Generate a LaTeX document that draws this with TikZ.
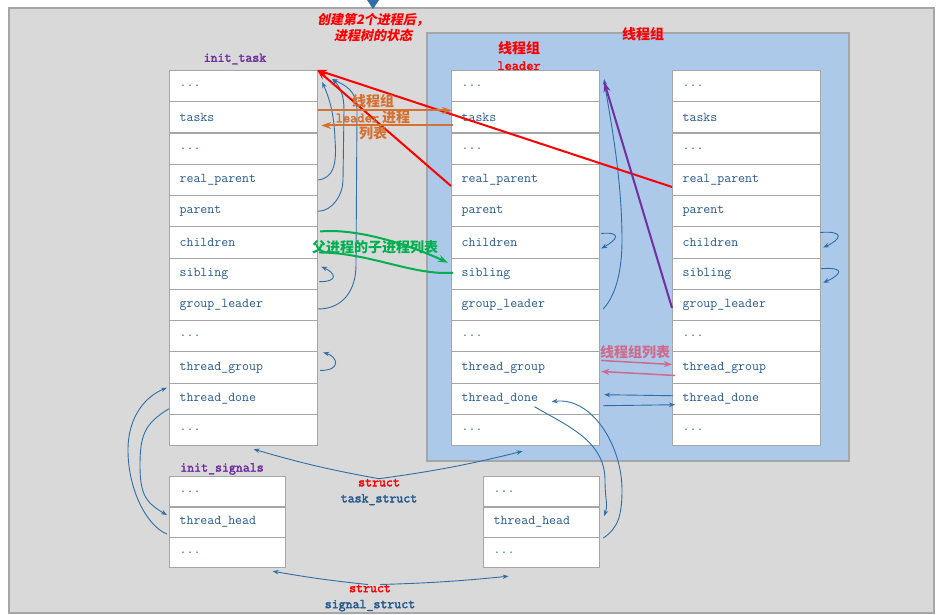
\documentclass[tikz,border=0pt]{standalone}
\usepackage{fontspec}
\usetikzlibrary{arrows.meta}
\newfontfamily\cjk{Noto Sans CJK SC}
\newfontfamily\cjkit[FakeSlant=0.2]{Noto Sans CJK SC}
\newfontfamily\tbold[FakeBold=2.5]{Latin Modern Mono}
\definecolor{bggray}{HTML}{D9D9D9}
\definecolor{boxgray}{HTML}{A6A6A6}
\definecolor{groupblue}{HTML}{ACC9E9}
\definecolor{fieldtext}{HTML}{265A8C}
\definecolor{ptrblue}{HTML}{2F6EA6}
\definecolor{labelpurple}{HTML}{7030A0}
\definecolor{listorange}{HTML}{D57130}
\definecolor{listgreen}{HTML}{00B050}
\definecolor{listpink}{HTML}{CF6A8C}
\newcommand\fdots{...}
\begin{document}
\begin{tikzpicture}[x=1pt,y=-1pt,
  field/.style={draw=boxgray,line width=1.2pt,fill=white,minimum height=31.25pt,
    text width=128pt,inner xsep=10pt,inner ysep=0pt,align=left,anchor=north west,
    font=\ttfamily\fontsize{13.5}{14}\selectfont,text=fieldtext},
  sfield/.style={field,minimum height=30.33pt,text width=96pt},
  tlabel/.style={font=\tbold\fontsize{13.5}{16}\selectfont,inner sep=0pt},
  clabel/.style={font=\cjk\bfseries\fontsize{14}{16}\selectfont,inner sep=0pt,align=center},
  ptr/.style={draw=ptrblue,line width=0.9pt,-{Stealth[length=6pt,width=4.5pt]}},
  fat/.style={line width=2pt,-{Stealth[length=10pt,width=7pt]}}]
\useasboundingbox (0,0) rectangle (940,615);
\draw[draw=boxgray,line width=2pt,fill=bggray] (9,8) rectangle (934,613);
\draw[draw=boxgray,line width=1.5pt,fill=groupblue] (427,33) rectangle (849,461);
\fill[ptrblue] (367,0) -- (379,0) -- (373,9) -- cycle;
% task_struct fields
\foreach \colname/\colx in {L/169,M/451,R/672}
  \foreach \fname [count=\i] in {\fdots,tasks,\fdots,real\_parent,parent,children,sibling,group\_leader,\fdots,thread\_group,thread\_done,\fdots}
    \node[field] (\colname\i) at (\colx,{70+31.25*(\i-1)}) {\fname};
% signal_struct fields
\foreach \colname/\colx in {Sa/169,Sb/483}
  \foreach \fname [count=\i] in {\fdots,thread\_head,\fdots}
    \node[sfield] (\colname\i) at (\colx,{476+30.33*(\i-1)}) {\fname};
% labels
\node[tlabel,text=labelpurple] (tasklabel) at (235,59) {init\_task};
\node[tlabel,text=labelpurple] (siglabel) at (222,469) {init\_signals};
\node[clabel,text=red] (leadlabel) at (519,56) {线程组\\{\tbold leader}};
\node[clabel,text=red] (grouplabel) at (643,34) {线程组};
\node[clabel,text=red,font=\cjkit\bfseries\fontsize{13}{16}\selectfont] (title) at (373,28) {创建第2个进程后，\\进程树的状态};
\node[tlabel,align=center] (tsname) at (379,492) {\textcolor{red}{struct}\\\textcolor{fieldtext}{task\_struct}};
\node[tlabel,align=center] (ssname) at (370,598) {\textcolor{red}{struct}\\\textcolor{fieldtext}{signal\_struct}};
% init_task points to itself
\draw[ptr] (L4.east) .. controls +(15,-2) and +(2,25) .. (335,140) .. controls +(-1,-30) and +(6,14) .. ([shift={(4,12)}]L1.north east);
\draw[ptr] (L5.east) .. controls +(14,0) and +(0,15) .. (343,180) -- (344,110) .. controls +(0,-15) and +(8,8) .. ([shift={(14,9)}]L1.north east);
\draw[ptr] ([shift={(0,4)}]L8.east) .. controls +(25,0) and +(0,25) .. (356,265) -- (357,110) .. controls +(0,-20) and +(12,6) .. ([shift={(14,9)}]L1.north east);
\draw[ptr] ([shift={(1,8)}]L7.east) .. controls +(20,0) and +(14,6) .. ([shift={(3,-7)}]L7.east);
\draw[ptr] ([shift={(2,3)}]L10.east) .. controls +(22,0) and +(14,4) .. ([shift={(5,-15)}]L10.east);
\draw[ptr] ([shift={(-2,12)}]Sa2.west) .. controls +(-20,-8) and +(0,40) .. (128,450) .. controls +(0,-35) and +(-20,8) .. ([shift={(-2,-11)}]L11.west);
\draw[ptr] ([shift={(0,10)}]L11.west) .. controls +(-25,15) and +(0,-30) .. (140,466) .. controls +(0,30) and +(-20,-12) .. ([shift={(-2,-7)}]Sa2.west);
% thread group leader
\draw[ptr] ([shift={(1,-9)}]M6.east) .. controls +(22,-2) and +(15,-8) .. ([shift={(1,6)}]M6.east);
\draw[ptr] ([shift={(3,4)}]M8.east) .. controls +(13,-14) and +(0,30) .. (622,240) .. controls +(0,-70) and +(3,25) .. ([shift={(4,9)}]M1.north east);
\draw[ptr] ([shift={(9,8)}]M11.center) .. controls +(30,18) and +(0,-40) .. (605,480) .. controls +(0,20) and +(4,-12) .. ([shift={(4,-6)}]Sb2.east);
\draw[ptr] ([shift={(3,16)}]Sb2.east) .. controls +(15,-10) and +(0,25) .. (622,490) .. controls +(0,-45) and +(40,-5) .. ([shift={(26,3)}]M11.center);
% second thread
\draw[ptr] ([shift={(-1,-10)}]R6.east) .. controls +(25,-2) and +(18,-8) .. ([shift={(2,5)}]R6.east);
\draw[ptr] ([shift={(0,-5)}]R7.east) .. controls +(25,-2) and +(18,-8) .. ([shift={(2,9)}]R7.east);
\draw[ptr] ([shift={(1,-3)}]R11.west) -- ([shift={(4,-4)}]M11.east);
\draw[ptr] ([shift={(3,7)}]M11.east) -- ([shift={(3,6)}]R11.west);
% struct names
\draw[ptr] (tsname.north) to[bend left=3] ([shift={(10,3)}]L12.south);
\draw[ptr] (tsname.north) to[bend right=3] ([shift={(-3,5)}]M12.south);
\draw[ptr] ([shift={(-2,0)}]ssname.north) to[bend left=2] ([shift={(45,3)}]Sa3.south);
\draw[ptr] ([shift={(10,0)}]ssname.north) to[bend right=2] ([shift={(-33,8)}]Sb3.south);
% parents
\draw[fat,red] ([shift={(0,6)}]M4.west) -- ([shift={(-1,0)}]L1.north east);
\draw[fat,red] ([shift={(0,7)}]R4.west) -- ([shift={(-1,0)}]L1.north east);
\draw[fat,labelpurple] ([shift={(0,3)}]R8.west) -- ([shift={(4,12)}]M1.north east);
% tasks list
\draw[fat,listorange] ([shift={(0,-7)}]L2.east) -- ([shift={(1,-7)}]M2.west);
\draw[fat,listorange] ([shift={(2,8)}]M2.west) -- ([shift={(3,8)}]L2.east);
\node[clabel,text=listorange] (tasklist) at (373,117) {线程组\\{\tbold leader} 进程\\列表};
% children list
\draw[fat,listgreen] ([shift={(2,-11)}]L6.east) .. controls +(32,-3) and +(-48,-22) .. ([shift={(-3,-11)}]M7.west);
\draw[line width=2pt,listgreen] ([shift={(2,-1)}]M7.west) .. controls +(-40,3) and +(50,0) .. ([shift={(1,10)}]L6.east);
\node[clabel,text=listgreen] (childlist) at (375,247) {父进程的子进程列表};
% thread group list
\draw[line width=1.5pt,listpink,-{Stealth[length=8pt,width=6pt]}] ([shift={(1,-7)}]M10.east) -- ([shift={(0,-3)}]R10.west);
\draw[line width=1.5pt,listpink,-{Stealth[length=8pt,width=6pt]}] ([shift={(3,8)}]R10.west) -- ([shift={(1,4)}]M10.east);
\node[clabel,text=listpink] (grouplist) at (635,352) {线程组列表};
\end{tikzpicture}
\end{document}
